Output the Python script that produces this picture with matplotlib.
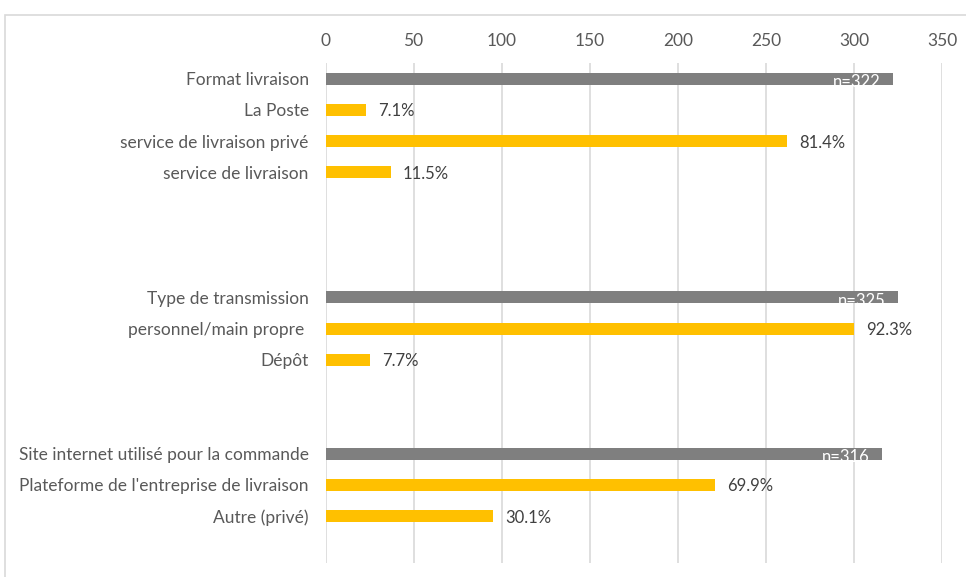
import matplotlib
matplotlib.use("Agg")
import matplotlib.pyplot as plt
from matplotlib.patches import Rectangle

categories = ["Format livraison", "La Poste", "service de livraison privé", "service de livraison",
              "", "", "",
              "Type de transmission", "personnel/main propre ", "Dépôt",
              "", "",
              "Site internet utilisé pour la commande", "Plateforme de l'entreprise de livraison", "Autre (privé)",
              ""]
values = [322, 23, 262, 37,
          None, None, None,
          325, 300, 25,
          None, None,
          316, 221, 95,
          None]
labels = ["n=322", "7.1%", "81.4%", "11.5%",
          "", "", "",
          "n=325", "92.3%", "7.7%",
          "", "",
          "n=316", "69.9%", "30.1%",
          ""]
is_total = [True, False, False, False, False, False, False,
            True, False, False, False, False,
            True, False, False, False]
xticks = [0, 50, 100, 150, 200, 250, 300, 350]

W, H = 966, 577
fig = plt.figure(figsize=(W/100, H/100), dpi=100)
plt.rcParams['font.family'] = ['Lato', 'DejaVu Sans']

# outer chart border
fig.patches.append(Rectangle((5/W, -0.05), 1.0, (577-15)/H + 0.05, transform=fig.transFigure,
                             fill=False, edgecolor='#D9D9D9', linewidth=1.2))

ax = fig.add_axes([325.5/W, 1-563/H, (942-325.5)/W, (563-63)/H])
n = len(categories)
ys = list(range(n))
GRAY = '#7F7F7F'
GOLD = '#FFC000'
for y, v, t, tot in zip(ys, values, labels, is_total):
    if v is None:
        continue
    ax.barh(y, v, height=0.38, color=GRAY if tot else GOLD, zorder=2)
    if tot:
        ax.text(v - 7, y + 0.12, t, ha='right', va='center', color='white', fontsize=12, zorder=3)
    else:
        ax.text(v + 7, y + 0.05, t, ha='left', va='center', color='#404040', fontsize=12, zorder=3)

ax.set_ylim(n - 0.5, -0.5)
ax.set_xlim(0, 350)
ax.set_yticks(ys)
ax.set_yticklabels(categories, fontsize=12.5, color='#595959')
ax.set_xticks(xticks)
ax.set_xticklabels([str(x) for x in xticks], fontsize=12.5, color='#595959')
ax.xaxis.tick_top()
ax.tick_params(axis='both', length=0)
ax.tick_params(axis='x', pad=10)
ax.tick_params(axis='y', pad=12)
ax.grid(axis='x', color='#D9D9D9', linewidth=1.2, zorder=0)
ax.set_axisbelow(True)
for s in ax.spines.values():
    s.set_visible(False)

fig.savefig("out.png", dpi=100)
